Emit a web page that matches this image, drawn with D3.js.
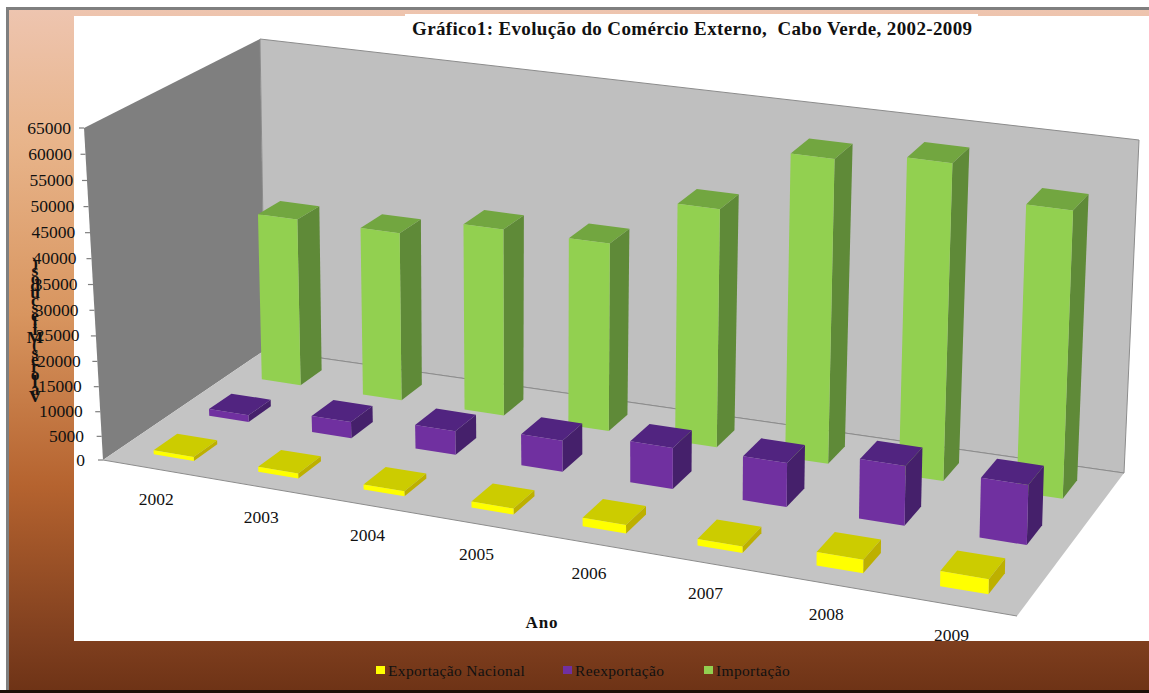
<!DOCTYPE html>
<html>
<head>
<meta charset="utf-8">
<script src="https://cdn.jsdelivr.net/npm/d3@7"></script>
<style>
  body { margin: 0; background: #fff; }
  text { font-family: "Liberation Serif", serif; fill: #111; }
</style>
</head>
<body>
<svg id="chart"></svg>
<script>
const years = ["2002", "2003", "2004", "2005", "2006", "2007", "2008", "2009"];
const seriesNames = ["Exportação Nacional", "Reexportação", "Importação"];
const exportacao = [900, 1100, 1100, 1300, 1800, 1400, 2800, 3100];
const reexportacao = [1500, 3500, 5000, 6500, 8500, 9000, 12000, 12000];
const importacao = [34500, 34500, 38000, 38000, 47500, 60000, 62000, 56000];
const seriesValues = [exportacao, reexportacao, importacao];
const valueTicks = d3.range(0, 65001, 5000);
const axisTitle = "Valores (Mil escudos)";

const width = 1149, height = 693;

// colours per series: front, top, side
const faceColors = [
  { front: "#ffff00", top: "#cccc00", side: "#bdb000" },
  { front: "#7030a0", top: "#512480", side: "#45206b" },
  { front: "#92d050", top: "#72a640", side: "#5f8a38" },
];

const svg = d3.select("#chart").attr("width", width).attr("height", height)
  .style("display", "block");

// frame
const defs = svg.append("defs");
const grad = defs.append("linearGradient").attr("id", "bg")
  .attr("x1", 0).attr("y1", 0).attr("x2", 0).attr("y2", 1);
[[0, "#eec5b0"], [0.2, "#e8b48a"], [0.45, "#d8955f"], [0.7, "#b5632f"], [0.93, "#7e3e1e"], [1, "#6e3316"]]
  .forEach(([o, c]) => grad.append("stop").attr("offset", o).attr("stop-color", c));

svg.append("rect").attr("x", 6).attr("y", 7).attr("width", width - 6).attr("height", height - 9)
  .attr("fill", "url(#bg)");
svg.append("path").attr("d", `M7.5,${height - 2}V8.5H${width}`)
  .attr("fill", "none").attr("stroke", "#7f7f7f").attr("stroke-width", 3);
svg.append("rect").attr("x", 0).attr("y", 690).attr("width", width).attr("height", 3).attr("fill", "#1c1008");
svg.append("rect").attr("x", 74).attr("y", 16).attr("width", width - 74).attr("height", 625).attr("fill", "#fff");
svg.append("rect").attr("x", 405).attr("y", 14).attr("width", 573).attr("height", 26).attr("fill", "#fff");

// projection: floor corners and the vertical vector (full axis height) at each corner
const FL = [103, 460], FR = [1017, 616], BR = [1124, 473], BL = [265, 350];
const upFL = [-19, -332], upFR = [6, -350], upBR = [15, -333], upBL = [-5, -311];

const dx3 = FL[0] - FR[0] + BR[0] - BL[0], dy3 = FL[1] - FR[1] + BR[1] - BL[1];
const dx1 = FR[0] - BR[0], dx2 = BL[0] - BR[0], dy1 = FR[1] - BR[1], dy2 = BL[1] - BR[1];
const den = dx1 * dy2 - dx2 * dy1;
const gk = (dx3 * dy2 - dx2 * dy3) / den, hk = (dx1 * dy3 - dx3 * dy1) / den;

// scales
const xScale = d3.scaleBand().domain(years).range([0, 1]).paddingInner(0.618).paddingOuter(0.309);
const zScale = d3.scaleBand().domain(seriesNames).range([0, 1]).paddingInner(0.58).paddingOuter(0.29);
const yScale = d3.scalePow().exponent(1.03).domain([0, 65000]).range([0, 1]);
const floorScale = d3.scalePow().exponent(0.96).domain([0, 1]).range([0, 1]); // evens out the bar spacing
const labelX = d3.scaleLinear().domain([0, 65000]).range([85, 71]);

const project = (uRaw, v, value) => {
  const u = floorScale(uRaw);
  const w = gk * u + hk * v + 1;
  const x = ((FR[0] - FL[0] + gk * FR[0]) * u + (BL[0] - FL[0] + hk * BL[0]) * v + FL[0]) / w;
  const y = ((FR[1] - FL[1] + gk * FR[1]) * u + (BL[1] - FL[1] + hk * BL[1]) * v + FL[1]) / w;
  const mix = (i) => (upFL[i] * (1 - u) + upFR[i] * u) * (1 - v) + (upBL[i] * (1 - u) + upBR[i] * u) * v;
  const t = yScale(value);
  return [x + mix(0) * t, y + mix(1) * t];
};

const line = d3.line();
const quad = (pts) => line(pts) + "Z";

// walls and floor
const g = svg.append("g");
g.append("path").attr("fill", "#7f7f7f")
  .attr("d", quad([project(0, 0, 0), project(0, 1, 0), project(0, 1, 65000), project(0, 0, 65000)]));
g.append("path").attr("fill", "#bfbfbf").attr("stroke", "#8c8c8c").attr("stroke-width", 1)
  .attr("d", quad([project(0, 1, 0), project(1, 1, 0), project(1, 1, 65000), project(0, 1, 65000)]));
g.append("path").attr("fill", "#c4c4c4")
  .attr("d", quad([project(0, 0, 0), project(1, 0, 0), project(1, 1, 0), project(0, 1, 0)]));
g.append("path").attr("fill", "none").attr("stroke", "#8c8c8c").attr("stroke-width", 1)
  .attr("d", line([project(0, 1, 0), project(1, 1, 0)]));
g.append("path").attr("fill", "none").attr("stroke", "#8c8c8c").attr("stroke-width", 1)
  .attr("d", line([project(0, 0, 0), project(1, 0, 0)]));

// value axis
const tickG = g.append("g").selectAll("g").data(valueTicks).join("g");
tickG.append("path").attr("stroke", "#7f7f7f").attr("stroke-width", 1.2)
  .attr("d", (d) => {
    const p = project(0, 0, d);
    return line([[p[0] - 5, p[1]], p]);
  });
tickG.append("text").attr("text-anchor", "end").style("font-size", "17.5px")
  .attr("x", (d) => labelX(d))
  .attr("y", (d) => project(0, 0, d)[1] + 5.5)
  .text((d) => d);

// axis title: upright letters stacked from the bottom
g.append("g").selectAll("text").data(axisTitle.replace(/ /g, "").split("")).join("text")
  .attr("text-anchor", "middle").style("font-size", "17.5px").style("font-weight", "bold")
  .attr("x", 35)
  .attr("y", (d, i) => 402 - i * 7.4)
  .text((d) => d);

// bars, back row first
seriesNames.map((name, s) => s).reverse().forEach((s) => {
  const name = seriesNames[s], col = faceColors[s];
  const v0 = zScale(name), v1 = v0 + zScale.bandwidth();
  const row = g.append("g").selectAll("g")
    .data(years.map((year, i) => ({ year, value: seriesValues[s][i] })))
    .join("g");
  const u0 = (d) => xScale(d.year), u1 = (d) => xScale(d.year) + xScale.bandwidth();
  row.append("path").attr("fill", col.side)
    .attr("d", (d) => quad([project(u1(d), v0, 0), project(u1(d), v1, 0), project(u1(d), v1, d.value), project(u1(d), v0, d.value)]));
  row.append("path").attr("fill", col.top)
    .attr("d", (d) => quad([project(u0(d), v0, d.value), project(u1(d), v0, d.value), project(u1(d), v1, d.value), project(u0(d), v1, d.value)]));
  row.append("path").attr("fill", col.front)
    .attr("d", (d) => quad([project(u0(d), v0, 0), project(u1(d), v0, 0), project(u1(d), v0, d.value), project(u0(d), v0, d.value)]));
});

// category labels
g.append("g").selectAll("text").data(years).join("text")
  .attr("text-anchor", "middle").style("font-size", "17.5px")
  .attr("x", (d) => project(xScale(d) + xScale.bandwidth() / 2, 0, 0)[0] - 1)
  .attr("y", (d) => project(xScale(d) + xScale.bandwidth() / 2, 0, 0)[1] + 36)
  .text((d) => d);

// titles
svg.append("text").attr("x", 692).attr("y", 35).attr("text-anchor", "middle")
  .attr("textLength", 560).style("font-size", "19px").style("font-weight", "bold").style("white-space", "pre")
  .text("Gráfico1: Evolução do Comércio Externo,  Cabo Verde, 2002-2009");
svg.append("text").attr("x", 542).attr("y", 628).attr("text-anchor", "middle")
  .style("font-size", "17px").style("font-weight", "bold").style("letter-spacing", "1px")
  .text("Ano");

// legend
const legendX = d3.scaleOrdinal().domain(seriesNames).range([376, 563, 704]);
const legend = svg.append("g").selectAll("g").data(seriesNames).join("g")
  .attr("transform", (d) => `translate(${legendX(d)},666)`);
legend.append("rect").attr("width", 9).attr("height", 8)
  .attr("fill", (d, i) => faceColors[i].front);
legend.append("text").attr("x", 12).attr("y", 10).style("font-size", "15.5px").style("letter-spacing", "0.35px")
  .text((d) => d);
</script>
</body>
</html>
